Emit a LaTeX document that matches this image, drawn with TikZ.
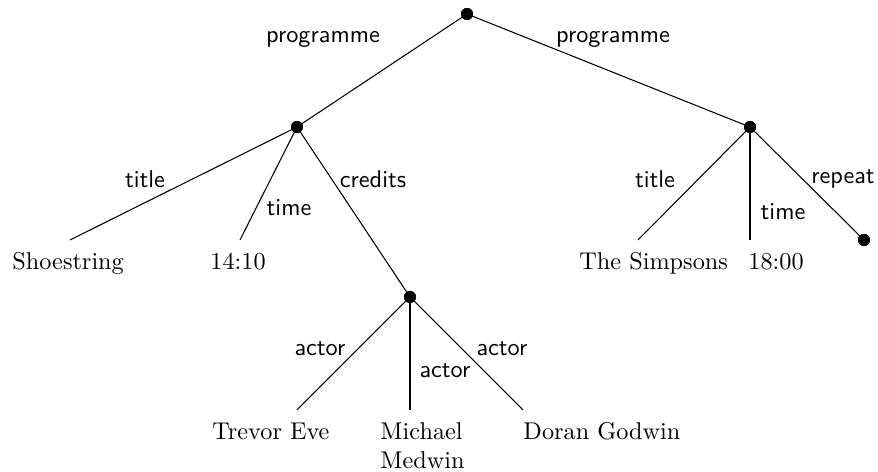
\documentclass[tikz,border=0pt]{standalone}
\newcommand{\treefont}{\fontsize{10.35pt}{12pt}\selectfont}
\begin{document}
\begin{tikzpicture}[x=0.015cm, y=-0.015cm,
  dot/.style={circle, fill=black, inner sep=0pt, minimum size=1.8mm},
  rel/.style={font=\sffamily\treefont, inner sep=0pt},
  leaf/.style={font=\treefont, anchor=base west, inner sep=0pt},
  link/.style={line width=0.45pt}]
\useasboundingbox (0,0) rectangle (878,472);

% internal nodes
\node[dot] (root) at (467,14) {};
\node[dot] (prog1) at (297,127) {};
\node[dot] (prog2) at (750,127) {};
\node[dot] (cred) at (410,297) {};
\node[dot] (rep) at (864,240) {};

% ends of the leaf edges
\coordinate (t1) at (70,240);
\coordinate (h1) at (240,240);
\coordinate (t2) at (638,240);
\coordinate (h2) at (750,240);
\coordinate (a1) at (297,410);
\coordinate (a2) at (410,410);
\coordinate (a3) at (523,410);

% edges
\draw[link] (root.center) -- (prog1.center);
\draw[link] (root.center) -- (prog2.center);
\draw[link] (prog1.center) -- (t1);
\draw[link] (prog1.center) -- (h1);
\draw[link] (prog1.center) -- (cred.center);
\draw[link] (prog2.center) -- (t2);
\draw[link] (prog2.center) -- (h2);
\draw[link] (prog2.center) -- (rep.center);
\draw[link] (cred.center) -- (a1);
\draw[link] (cred.center) -- (a2);
\draw[link] (cred.center) -- (a3);

% redraw dots above the edges
\foreach \n in {root,prog1,prog2,cred,rep}
  \fill (\n) circle (0.9mm);

% edge labels
\node[rel] (lp1) at (323,39) {programme};
\node[rel] (lp2) at (613,39) {programme};
\node[rel] (lt1) at (145,179) {title};
\node[rel] (lh1) at (289,208) {time};
\node[rel] (lc) at (373,179) {credits};
\node[rel] (lt2) at (655,179) {title};
\node[rel] (lh2) at (783,212) {time};
\node[rel] (lr) at (843,179) {repeat};
\node[rel] (la1) at (320,349) {actor};
\node[rel] (la2) at (445,371) {actor};
\node[rel] (la3) at (502,349) {actor};

% leaf values
\node[leaf] (vt1) at (12,270) {Shoestring};
\node[leaf] (vh1) at (210,270) {14:10};
\node[leaf] (vt2) at (579,270) {The Simpsons};
\node[leaf] (vh2) at (748,270) {18:00};
\node[leaf] (va1) at (212,440) {Trevor Eve};
\node[leaf] (va2) at (380,440) {\vtop{\hbox{Michael}\hbox{Medwin}}};
\node[leaf] (va3) at (523,440) {Doran Godwin};
\end{tikzpicture}
\end{document}
